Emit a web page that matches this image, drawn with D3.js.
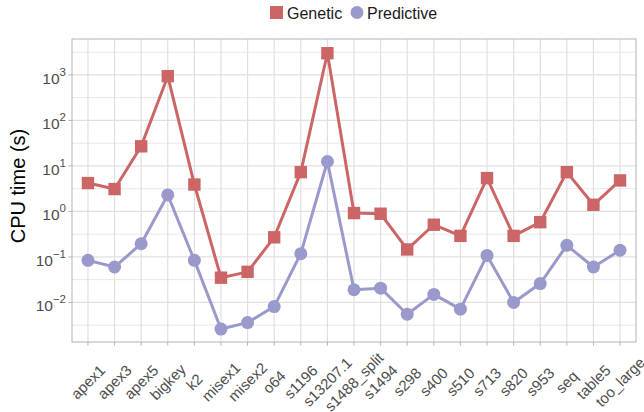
<!DOCTYPE html>
<html><head><meta charset="utf-8">
<script src="https://cdn.jsdelivr.net/npm/d3@7"></script>
<style>body{margin:0;background:#fff;font-family:"Liberation Sans",Arial,sans-serif;}</style>
</head><body><svg id="c" width="644" height="412"></svg>
<script>
const categories = ["apex1","apex3","apex5","bigkey","k2","misex1","misex2","o64","s1196","s13207.1","s1488_split","s1494","s298","s400","s510","s713","s820","s953","seq","table5","too_large"];
const genetic = [4.2,3.1,27,940,3.9,0.035,0.047,0.27,7.3,3000,0.92,0.89,0.146,0.51,0.29,5.4,0.29,0.58,7.3,1.4,4.8];
const predictive = [0.084,0.060,0.195,2.3,0.084,0.0026,0.0036,0.0081,0.118,12.5,0.019,0.0206,0.0055,0.015,0.0071,0.108,0.010,0.026,0.18,0.060,0.14];
const yTicks = [-2,-1,0,1,2,3];
const yMinor = [-2.5,-1.5,-0.5,0.5,1.5,2.5,3.5];
const seriesNames = ["Genetic","Predictive"];
const colors = ["#CC6666","#9999CC"];

const svg = d3.select("#c");
const L=72,R=636,T=39,B=342;
const x = d3.scalePoint().domain(categories).range([L,R]).padding(0.6);
const y = d3.scaleLog().domain([Math.pow(10,-2.87),Math.pow(10,3.79)]).range([B,T]);

const g = svg.append("g");
// grid
g.selectAll(".minor").data(yMinor).join("line")
  .attr("x1",L).attr("x2",R).attr("y1",d=>y(Math.pow(10,d))).attr("y2",d=>y(Math.pow(10,d)))
  .attr("stroke","#e8e8e8").attr("stroke-width",1);
g.selectAll(".major").data(yTicks).join("line")
  .attr("x1",L).attr("x2",R).attr("y1",d=>y(Math.pow(10,d))).attr("y2",d=>y(Math.pow(10,d)))
  .attr("stroke","#e0e0e0").attr("stroke-width",1.2);
g.selectAll(".vg").data(categories).join("line")
  .attr("x1",d=>x(d)).attr("x2",d=>x(d)).attr("y1",T).attr("y2",B)
  .attr("stroke","#e0e0e0").attr("stroke-width",1.2);
// border
g.append("rect").attr("x",L).attr("y",T).attr("width",R-L).attr("height",B-T)
  .attr("fill","none").attr("stroke","#b3b3b3").attr("stroke-width",1);

// ticks
g.selectAll(".xt").data(categories).join("line")
  .attr("x1",d=>x(d)).attr("x2",d=>x(d)).attr("y1",B).attr("y2",B+3.5)
  .attr("stroke","#b3b3b3");
g.selectAll(".yt").data(yTicks).join("line")
  .attr("x1",L-3.5).attr("x2",L).attr("y1",d=>y(Math.pow(10,d))).attr("y2",d=>y(Math.pow(10,d)))
  .attr("stroke","#b3b3b3");

// y tick labels
yTicks.forEach(d=>{
  const t = g.append("text").attr("x",L-6).attr("y",y(Math.pow(10,d))+9)
    .attr("text-anchor","end").attr("fill","#4d4d4d").attr("font-size",15.5);
  t.append("tspan").text("10");
  t.append("tspan").attr("dy",-8).attr("font-size",11.5).text(d<0?"\u2212"+(-d):String(d));
});

// x tick labels (centered, rotated 45°)
g.selectAll(".xl").data(categories).join("text")
  .attr("text-anchor","middle").attr("fill","#4d4d4d").attr("font-size",15)
  .attr("dy","0.35em")
  .attr("transform",d=>`translate(${x(d)},${B+40}) rotate(-45)`)
  .text(d=>d);

// y title
svg.append("text").attr("transform",`translate(25,186) rotate(-90)`)
  .attr("text-anchor","middle").attr("font-size",20).attr("fill","#000").text("CPU time (s)");

// series
const series=[genetic,predictive];
const line = d3.line().x((d,i)=>x(categories[i])).y(d=>y(d));
series.forEach((s,k)=>{
  svg.append("path").datum(s).attr("d",line).attr("fill","none")
    .attr("stroke",colors[k]).attr("stroke-width",3).attr("stroke-linejoin","round");
});
svg.selectAll(".sq").data(genetic).join("rect")
  .attr("x",(d,i)=>x(categories[i])-6.2).attr("y",d=>y(d)-6.2)
  .attr("width",12.4).attr("height",12.4).attr("fill",colors[0]);
svg.selectAll(".ci").data(predictive).join("circle")
  .attr("cx",(d,i)=>x(categories[i])).attr("cy",d=>y(d)).attr("r",6.5).attr("fill",colors[1]);

// legend
const lg = svg.append("g");
lg.append("rect").attr("x",270).attr("y",6).attr("width",13).attr("height",13).attr("fill",colors[0]);
lg.append("text").attr("x",287).attr("y",18.5).attr("font-size",16).attr("fill","#1a1a1a").text(seriesNames[0]);
lg.append("circle").attr("cx",357).attr("cy",12.5).attr("r",6.5).attr("fill",colors[1]);
lg.append("text").attr("x",367).attr("y",18.5).attr("font-size",16).attr("fill","#1a1a1a").text(seriesNames[1]);
</script></body></html>
